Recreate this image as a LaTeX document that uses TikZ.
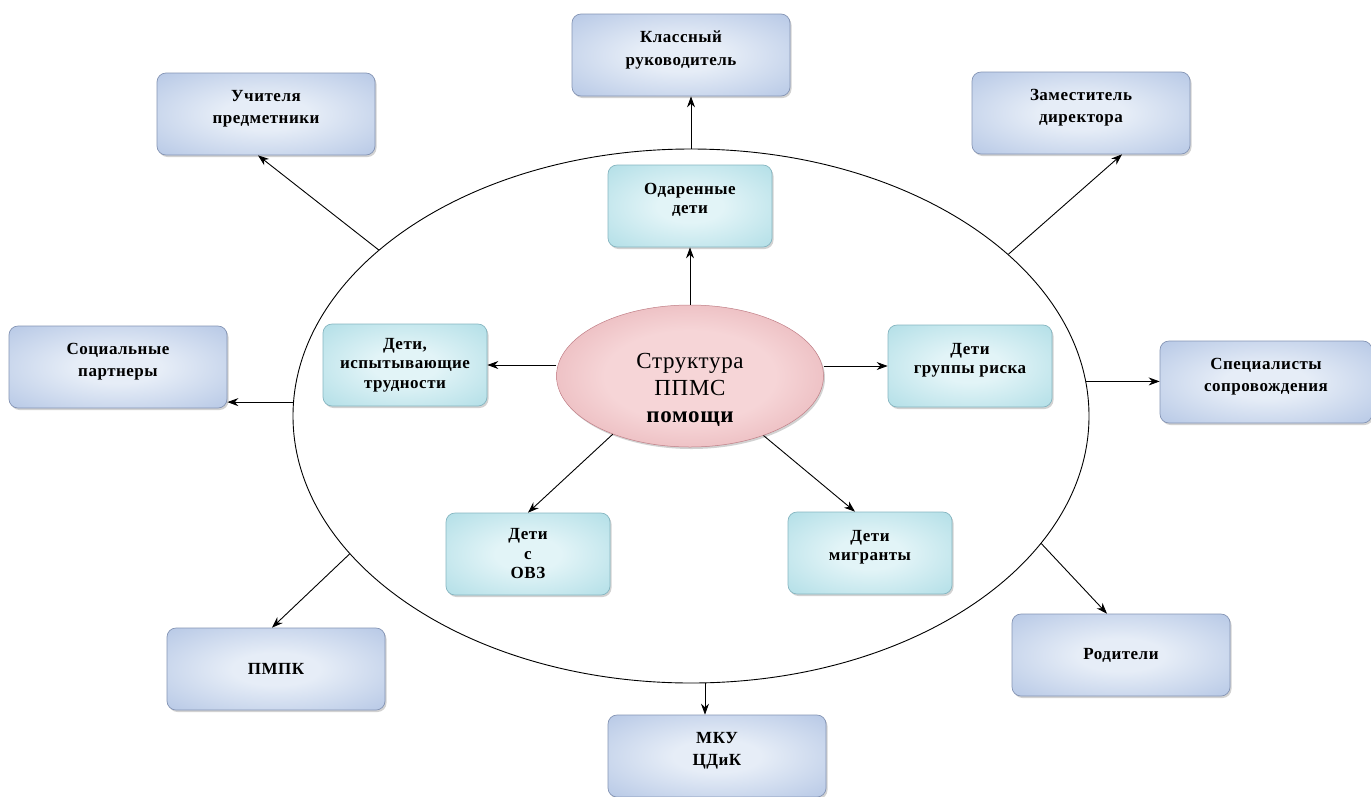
\documentclass[tikz,border=0pt]{standalone}
\usepackage{fontspec}
\setmainfont{Liberation Serif}
\newfontfamily\boxfont[LetterSpace=3]{Liberation Serif}
\newfontfamily\cenfont[LetterSpace=3]{Liberation Serif}
\usetikzlibrary{shapes.geometric,arrows.meta,shadows}
\definecolor{oin}{HTML}{E6EDF7}
\definecolor{oout}{HTML}{9DB4DC}
\definecolor{obord}{HTML}{8595B5}
\definecolor{cin}{HTML}{E2F4F7}
\definecolor{cout}{HTML}{98D3DE}
\definecolor{cbord}{HTML}{86B6C1}
\definecolor{pin}{HTML}{F6D5D7}
\definecolor{pout}{HTML}{D88E95}
\definecolor{pbord}{HTML}{C07E86}
\pgfdeclareradialshading{oshade}{\pgfpoint{0bp}{0bp}}{color(0bp)=(oin); color(10bp)=(oin); color(50bp)=(oout)}
\pgfdeclareradialshading{cshade}{\pgfpoint{0bp}{0bp}}{color(0bp)=(cin); color(10bp)=(cin); color(50bp)=(cout)}
\pgfdeclareradialshading{pshade}{\pgfpoint{0bp}{0bp}}{color(0bp)=(pin); color(16bp)=(pin); color(50bp)=(pout)}
\newcommand{\upo}{\rule[-14pt]{0pt}{1pt}}
\newcommand{\upc}{\rule[-15pt]{0pt}{1pt}}
\begin{document}
\begin{tikzpicture}[x=1pt,y=-1pt,
  boxbase/.style={rectangle, rounded corners=9pt, align=center, line width=0.7pt,
    drop shadow={shadow xshift=1.5pt, shadow yshift=-2pt, opacity=0.35}},
  obox/.style={boxbase, draw=obord, shading=oshade, minimum width=218pt, minimum height=82pt,
    font=\boxfont\bfseries\fontsize{17}{22.5}\selectfont},
  cbox/.style={boxbase, draw=cbord, shading=cshade, minimum width=164pt, minimum height=82pt,
    font=\boxfont\bfseries\fontsize{17}{19.5}\selectfont},
  arr/.style={-{Stealth[length=11pt,width=8pt]}, line width=0.9pt}]
\useasboundingbox (0,0) rectangle (1371,796);
\fill[white] (0,0) rectangle (1371,796);

\node[ellipse, draw, line width=0.9pt, minimum width=796pt, minimum height=534pt, inner sep=0pt] (big) at (691,416) {};

\node[ellipse, draw=pbord, line width=0.5pt, shading=pshade, minimum width=267pt, minimum height=142pt, inner sep=0pt, align=center,
  drop shadow={shadow xshift=1.5pt, shadow yshift=-2pt, opacity=0.35},
  font=\cenfont\fontsize{23}{27}\selectfont] (c) at (690,376) {\rule{0pt}{42pt}Структура\\ППМС\\{\bfseries помощи}};

\node[obox] (klass) at (681,55) {Классный\\руководитель\upo};
\node[obox] (uch) at (266,114) {Учителя\\предметники\upo};
\node[obox] (zam) at (1081,113) {Заместитель\\директора\upo};
\node[obox] (soc) at (118,367) {Социальные\\партнеры\upo};
\node[obox, minimum width=212pt] (spec) at (1266,382) {Специалисты\\сопровождения\upo};
\node[obox] (pmpk) at (276,669) {ПМПК};
\node[obox] (mku) at (717,756) {МКУ\\ЦДиК\upo};
\node[obox] (rod) at (1121,655) {Родители};

\node[cbox] (od) at (690,206) {Одаренные\\дети\upc};
\node[cbox] (isp) at (405,365) {Дети,\\испытывающие\\трудности};
\node[cbox] (risk) at (970,366) {Дети\\группы риска\upc};
\node[cbox] (ovz) at (528,554) {Дети\\с\\ОВЗ};
\node[cbox] (mig) at (870,553) {Дети\\мигранты\upc};

\draw[arr] (c.north) -- (od.south);
\draw[arr] (c.west |- isp) -- (isp.east);
\draw[arr] (c.east |- risk) -- (risk.west);
\draw[arr] (c.217) -- (ovz.north);
\draw[arr] (c.321) -- ([xshift=-15pt]mig.north);

\draw[arr] (big.north) -- (big.north |- klass.south);
\draw[arr] (big.152) -- ([xshift=-8pt]uch.south);
\draw[arr] (big.27) -- ([xshift=41pt]zam.south);
\draw[arr] (big.178) -- (big.178 -| soc.east);
\draw[arr] (big.5) -- (big.5 -| spec.west);
\draw[arr] (big.202) -- ([xshift=-4pt]pmpk.north);
\draw[arr] (big.273) -- (big.273 |- mku.north);
\draw[arr] (big.340.6) -- ([xshift=-14pt]rod.north);
\end{tikzpicture}
\end{document}
